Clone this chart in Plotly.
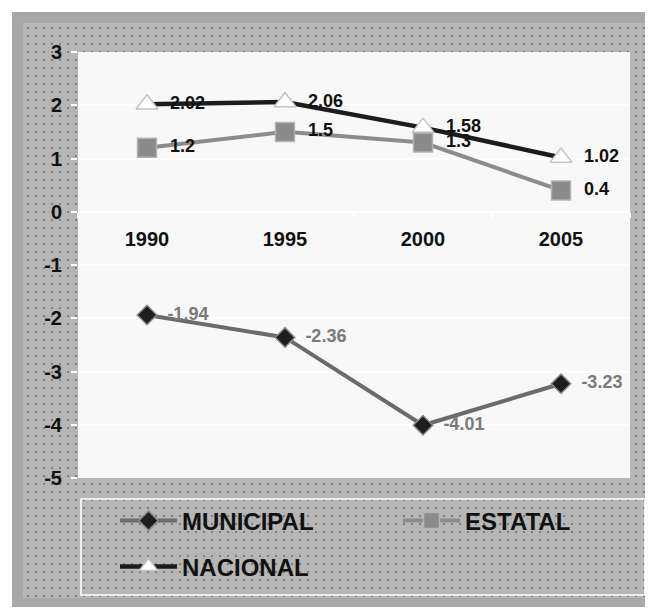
import plotly.graph_objects as go

# ---------------- data ----------------
years = ["1990", "1995", "2000", "2005"]
municipal = [-1.94, -2.36, -4.01, -3.23]
estatal = [1.2, 1.5, 1.3, 0.4]
nacional = [2.02, 2.06, 1.58, 1.02]
y_tick_vals = [-5, -4, -3, -2, -1, 0, 1, 2, 3]
y_tick_text = [str(v) for v in y_tick_vals]

# ---------------- geometry (pixels, in the 653x611 window) ----------------
WIN_W, WIN_H = 653, 611
OFF = 8  # default page body margin
W, H = WIN_W - OFF, WIN_H - OFF
PLOT_L, PLOT_R, PLOT_T, PLOT_B = 78, 630, 52, 478
Y_MIN, Y_MAX = -5, 3

FONT = "Liberation Sans, Arial, sans-serif"
LABEL_TEMPLATE = "\u00a0\u00a0%{text}"


def fx(x):
    return (x - OFF) / W


def fy(y):
    return 1 - (y - OFF) / H


def rect(x0, y0, x1, y1):
    x0, x1, y0, y1 = x0 - OFF, x1 - OFF, y0 - OFF, y1 - OFF
    return [x0, x1, x1, x0, x0], [y0, y0, y1, y1, y0]


fig = go.Figure()

# background: dotted area and plot area (on a full-page helper subplot)
bx, by = rect(23, 23, 645, 598)
fig.add_trace(go.Scatter(
    x=bx, y=by, mode="lines", fill="toself", line=dict(width=0),
    fillcolor="#b6b6b6",
    fillpattern=dict(shape=".", fgcolor="#2a2a2a", bgcolor="#b6b6b6",
                     size=8, solidity=0.06),
    hoverinfo="skip", showlegend=False, xaxis="x", yaxis="y"))
px_, py_ = rect(PLOT_L, PLOT_T, PLOT_R, PLOT_B)
fig.add_trace(go.Scatter(
    x=px_, y=py_, mode="lines", fill="toself", line=dict(width=0),
    fillcolor="#f8f8f8", hoverinfo="skip", showlegend=False,
    xaxis="x", yaxis="y"))

label_font = dict(family=FONT, size=18, weight="bold")

fig.add_trace(go.Scatter(
    x=years, y=nacional, name="NACIONAL", mode="lines+markers+text",
    text=[str(v) for v in nacional], texttemplate=LABEL_TEMPLATE,
    textposition="middle right",
    textfont=dict(label_font, color="#111111"),
    line=dict(color="#1c1c1c", width=4.5),
    marker=dict(symbol="triangle-up", size=19, color="#ffffff",
                line=dict(color="#c4c4c4", width=1.5)),
    xaxis="x2", yaxis="y2", legend="legend3"))

fig.add_trace(go.Scatter(
    x=years, y=estatal, name="ESTATAL", mode="lines+markers+text",
    text=[str(v) for v in estatal], texttemplate=LABEL_TEMPLATE,
    textposition="middle right",
    textfont=dict(label_font, color="#111111"),
    line=dict(color="#8c8c8c", width=4),
    marker=dict(symbol="square", size=19, color="#8a8a8a",
                line=dict(color="#b4b4b4", width=1.5)),
    xaxis="x2", yaxis="y2", legend="legend2"))

fig.add_trace(go.Scatter(
    x=years, y=municipal, name="MUNICIPAL", mode="lines+markers+text",
    text=[str(v) for v in municipal], texttemplate=LABEL_TEMPLATE,
    textposition="middle right",
    textfont=dict(label_font, color="#7a7a7a"),
    line=dict(color="#6b6b6b", width=4),
    marker=dict(symbol="diamond", size=15, color="#1e1e1e",
                line=dict(color="#8a8a8a", width=1.5)),
    xaxis="x2", yaxis="y2", legend="legend"))

plot_dom_y = [fy(PLOT_B), fy(PLOT_T)]
zero_pos = plot_dom_y[0] + (0 - Y_MIN) / (Y_MAX - Y_MIN) * (plot_dom_y[1] - plot_dom_y[0])

tick_font = dict(family=FONT, size=20, weight="bold", color="#111111")
legend_font = dict(family=FONT, size=24, weight="bold", color="#111111")


def leg(x, y):
    return dict(orientation="h", x=fx(x), y=fy(y), xanchor="left", yanchor="middle",
                bgcolor="rgba(0,0,0,0)", borderwidth=0, font=legend_font,
                itemwidth=57)


fig.update_layout(
    width=W, height=H,
    margin=dict(l=0, r=0, t=0, b=0, autoexpand=False),
    paper_bgcolor="#ffffff",
    plot_bgcolor="rgba(0,0,0,0)",
    xaxis=dict(domain=[0, 1], range=[0, W], visible=False, fixedrange=True,
               automargin=False),
    yaxis=dict(domain=[0, 1], range=[H, 0], visible=False, fixedrange=True,
               automargin=False),
    xaxis2=dict(domain=[fx(PLOT_L), fx(PLOT_R)], anchor="free", position=zero_pos,
                type="category", range=[-0.5, 3.5], showgrid=False, zeroline=False,
                showline=False, ticks="outside", tickson="boundaries", ticklen=5,
                tickcolor="#ffffff", tickwidth=1.5, tickfont=tick_font,
                ticklabelstandoff=13, automargin=False),
    yaxis2=dict(domain=plot_dom_y, anchor="x2", range=[Y_MIN, Y_MAX],
                tickvals=y_tick_vals, ticktext=y_tick_text,
                showgrid=True, gridcolor="#ffffff", gridwidth=1.5,
                zeroline=True, zerolinecolor="#ffffff", zerolinewidth=1.5,
                showline=False, ticks="outside", ticklen=6, tickcolor="#ffffff",
                tickwidth=1.5, tickfont=tick_font, ticklabelstandoff=5,
                automargin=False),
    legend=leg(115, 521),
    legend2=leg(398, 521),
    legend3=leg(115, 567),
    shapes=[
        dict(type="rect", xref="paper", yref="paper", layer="below",
             x0=fx(12), x1=fx(WIN_W + 10), y0=fy(12), y1=fy(607),
             line=dict(width=0), fillcolor="#a8a8a8"),
        dict(type="rect", xref="paper", yref="paper", layer="above",
             x0=fx(81), x1=fx(645), y0=fy(499), y1=fy(595),
             line=dict(color="#ffffff", width=1.5), fillcolor="rgba(0,0,0,0)"),
    ],
)

fig.write_html("out.html")
